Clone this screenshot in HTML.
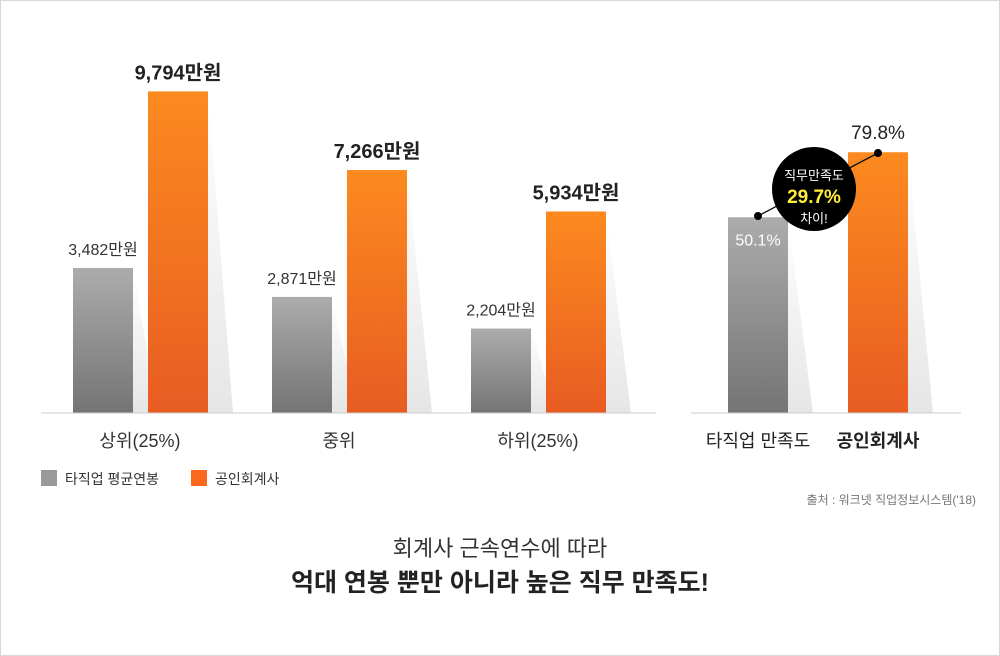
<!DOCTYPE html>
<html><head><meta charset="utf-8"><style>
body{margin:0;background:#fff}
#wrap{position:relative;width:998px;height:654px;border:1px solid #d8d8d8;font-family:"Liberation Sans","Noto Sans CJK KR",sans-serif;overflow:hidden}
svg text{font-family:"Liberation Sans","Noto Sans CJK KR",sans-serif}
</style></head><body>
<div id="wrap">
<svg id="chart" width="998" height="654">
<defs>
<linearGradient id="gg" x1="0" y1="0" x2="0" y2="1"><stop offset="0" stop-color="#acacac"/><stop offset="1" stop-color="#747474"/></linearGradient>
<linearGradient id="og" x1="0" y1="0" x2="0" y2="1"><stop offset="0" stop-color="#fc8a1f"/><stop offset="1" stop-color="#e85c22"/></linearGradient>
<linearGradient id="sg" x1="0" y1="0" x2="0" y2="1"><stop offset="0" stop-color="#ffffff"/><stop offset="1" stop-color="#e6e6e6"/></linearGradient>
</defs>
<g id="shadows"></g><g id="bars"></g><g id="labels"></g>
<line x1="40" y1="412" x2="655" y2="412" stroke="#ccc"/>
<line x1="690" y1="412" x2="960" y2="412" stroke="#ccc"/>
<g>
<line x1="757" y1="215" x2="877" y2="152" stroke="#111" stroke-width="1.3"/>
<circle cx="757" cy="215" r="4" fill="#000"/><circle cx="877" cy="152" r="4" fill="#000"/>
<circle cx="813" cy="188" r="42" fill="#000"/>
<text x="813" y="179" text-anchor="middle" font-size="13" fill="#fff">직무만족도</text>
<text x="813" y="202" text-anchor="middle" font-size="19" font-weight="bold" fill="#ffef3a">29.7%</text>
<text x="813" y="222" text-anchor="middle" font-size="13" fill="#fff">차이!</text>
</g>
<g>
<rect x="40" y="469" width="16" height="16" fill="#9a9a9a"/>
<text x="64" y="483" font-size="14" fill="#333">타직업 평균연봉</text>
<rect x="190" y="469" width="16" height="16" fill="#fb6a1c"/>
<text x="214" y="483" font-size="14" fill="#333">공인회계사</text>
</g>
<text x="975" y="503" text-anchor="end" font-size="12" fill="#777">출처 : 워크넷 직업정보시스템('18)</text>
<text x="499" y="555" text-anchor="middle" font-size="22" fill="#333">회계사 근속연수에 따라</text>
<text x="499" y="590" text-anchor="middle" font-size="25" font-weight="bold" fill="#222">억대 연봉 뿐만 아니라 높은 직무 만족도!</text>
</svg>
</div>
<script>
const categories=["상위(25%)","중위","하위(25%)"];
const avgSalary=[3482,2871,2204];
const cpaSalary=[9794,7266,5934];
const satCategories=["타직업 만족도","공인회계사"];
const satValues=[50.1,79.8];
const NS="http://www.w3.org/2000/svg";
const base=412, bw=60;
const grayH=v=>0.0474*v-20;
const orangeH=v=>0.0311*v+17;
const satH=v=>2.19*v+86;
const groupX=i=>72+i*199;
function fmt(v){return v.toLocaleString('en-US');}
function mk(tag,attrs,parent){const e=document.createElementNS(NS,tag);for(const k in attrs)e.setAttribute(k,attrs[k]);document.getElementById(parent).appendChild(e);return e;}
function bar(x,h,fill,name){
 const sh=mk('polygon',{points:`${x+bw},${base-h} ${x+bw+25},${base} ${x+bw},${base}`,fill:'url(#sg)'},'shadows');
 
 
 const r=mk('rect',{x:x,y:base-h,width:bw,height:h,fill:fill},'bars');
 
 
}
function label(x,y,t,size,weight,fill,name,anchor){
 const e=mk('text',{x:x,y:y,'font-size':size,'font-weight':weight,fill:fill,'text-anchor':anchor||'middle'},'labels');
 e.textContent=t;
 
 
}
categories.forEach((c,i)=>{
 const gx=groupX(i), ox=gx+75;
 const gh=grayH(avgSalary[i]), oh=orangeH(cpaSalary[i]);
 bar(gx,gh,'url(#gg)','bar-average-'+i);
 bar(ox,oh,'url(#og)','bar-cpa-'+i);
 label(gx+bw/2,base-gh-13,fmt(avgSalary[i])+'만원',16,'normal','#333','value-average-'+i);
 label(ox+bw/2,base-oh-12,fmt(cpaSalary[i])+'만원',20,'bold','#222','value-cpa-'+i);
 label(gx+67,446,c,18,'normal','#333','category-label-'+i);
});
const sx=[727,847];
satValues.forEach((v,i)=>{
 const h=satH(v);
 bar(sx[i],h,i?'url(#og)':'url(#gg)','bar-satisfaction-'+i);
 if(i) label(sx[i]+bw/2,base-h-13,v.toFixed(1)+'%',19,'normal','#222','value-satisfaction-'+i);
 else label(sx[i]+bw/2,base-h+28,v.toFixed(1)+'%',16,'normal','#fff','value-satisfaction-'+i);
 label(sx[i]+bw/2,446,satCategories[i],18,i?'bold':'normal','#222','satisfaction-label-'+i);
});
</script>
</body></html>
